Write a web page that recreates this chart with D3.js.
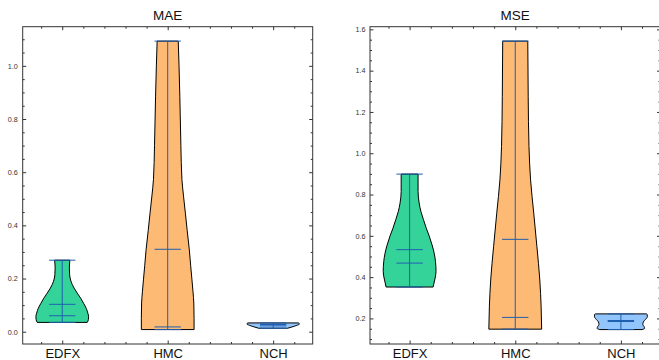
<!DOCTYPE html>
<html>
<head>
<meta charset="utf-8">
<script src="https://cdn.jsdelivr.net/npm/d3@7"></script>
<style>
  html, body { margin: 0; padding: 0; background: #fff; }
  svg { display: block; font-family: "Liberation Sans", Arial, Helvetica, sans-serif; }
</style>
</head>
<body>
<div id="chart"></div>
<script>
// categories and colours of the violins
const categories = ['EDFX', 'HMC', 'NCH'];
const bodyColors = ['#34d399', '#fdba74', '#93c5fd'];

// summary stats (MAE panel)
const maeMin    = [0.035, 0.008, 0.013];
const maeMax    = [0.269, 1.093, 0.033];
const maeMean   = [0.103, 0.310, 0.027];
const maeMedian = [0.060, 0.018, 0.022];

// summary stats (MSE panel)
const mseMin    = [0.352, 0.148, 0.146];
const mseMax    = [0.899, 1.543, 0.222];
const mseMean   = [0.533, 0.583, 0.190];
const mseMedian = [0.468, 0.205, 0.185];

// violin outlines: value levels and relative half width at each level
const maeEdfxVals  = [0.035, 0.045, 0.057, 0.070, 0.088, 0.105, 0.126, 0.145, 0.164, 0.190, 0.214, 0.240, 0.269];
const maeEdfxWidth = [0.95, 0.99, 1.00, 0.97, 0.91, 0.82, 0.70, 0.57, 0.45, 0.33, 0.28, 0.27, 0.29];
const maeHmcVals   = [0.008, 0.050, 0.108, 0.150, 0.195, 0.250, 0.308, 0.380, 0.446, 0.510, 0.572, 0.700, 0.886, 1.000, 1.093];
const maeHmcWidth  = [1.00, 1.00, 0.99, 0.96, 0.92, 0.87, 0.82, 0.74, 0.67, 0.60, 0.54, 0.50, 0.46, 0.43, 0.40];
const maeNchVals   = [0.013, 0.018, 0.024, 0.029, 0.033];
const maeNchWidth  = [0.55, 0.72, 0.90, 1.00, 0.96];

const mseEdfxVals  = [0.352, 0.386, 0.426, 0.475, 0.516, 0.556, 0.600, 0.637, 0.680, 0.717, 0.760, 0.815, 0.860, 0.899];
const mseEdfxWidth = [0.89, 0.95, 1.00, 0.98, 0.93, 0.85, 0.74, 0.63, 0.52, 0.43, 0.36, 0.32, 0.32, 0.32];
const mseHmcVals   = [0.148, 0.256, 0.386, 0.548, 0.710, 0.871, 1.033, 1.276, 1.543];
const mseHmcWidth  = [1.00, 0.98, 0.93, 0.82, 0.70, 0.58, 0.52, 0.49, 0.475];
const mseNchVals   = [0.146, 0.152, 0.160, 0.170, 0.183, 0.195, 0.208, 0.218, 0.222];
const mseNchWidth  = [0.80, 0.90, 0.88, 0.83, 0.85, 0.93, 1.00, 1.00, 0.97];

// tick values
const xMajorTicks = [1, 2, 3];
const xMinorTicks = [0.8, 1.2, 1.4, 1.6, 1.8, 2.2, 2.4, 2.6, 2.8, 3.2];
const maeTicks = [0.0, 0.2, 0.4, 0.6, 0.8, 1.0];
const mseTicks = [0.2, 0.4, 0.6, 0.8, 1.0, 1.2, 1.4, 1.6];

const width = 659, height = 360;
const lineColor = '#1f5fb0';
const axisColor = '#333';

const svg = d3.select('#chart').append('svg')
  .attr('width', width)
  .attr('height', height);

svg.append('rect').attr('width', width).attr('height', height).attr('fill', '#fff');

const panels = [
  {
    title: 'MAE', left: 22.7, right: 312.7, labelPad: 5,
    mins: maeMin, maxs: maeMax, means: maeMean, medians: maeMedian,
    shapes: [[maeEdfxVals, maeEdfxWidth], [maeHmcVals, maeHmcWidth], [maeNchVals, maeNchWidth]],
    ticks: maeTicks
  },
  {
    title: 'MSE', left: 370, right: 660.5, labelPad: 4.5,
    mins: mseMin, maxs: mseMax, means: mseMean, medians: mseMedian,
    shapes: [[mseEdfxVals, mseEdfxWidth], [mseHmcVals, mseHmcWidth], [mseNchVals, mseNchWidth]],
    ticks: mseTicks
  }
];

const plotTop = 26.7, plotBottom = 344;
const violinWidth = 0.5;

panels.forEach(p => {
  // matplotlib-like 5% margins around the data
  const lo = d3.min(p.mins), hi = d3.max(p.maxs);
  const pad = (hi - lo) * 0.05;
  const y = d3.scaleLinear().domain([lo - pad, hi + pad]).range([plotBottom, plotTop]);
  const x = d3.scaleLinear().domain([0.625, 3.375]).range([p.left, p.right]);

  const minorY = d3.range(Math.ceil((lo - pad) / 0.05), Math.floor((hi + pad) / 0.05) + 1)
    .map(i => +(i * 0.05).toFixed(2))
    .filter(v => !p.ticks.some(t => Math.abs(t - v) < 1e-6));

  const g = svg.append('g');
  const halfPx = x(1 + violinWidth / 2) - x(1);
  const capPx = x(1 + violinWidth / 4) - x(1);

  // violin bodies
  p.shapes.forEach((s, i) => {
    const cx = x(i + 1);
    const pts = s[0].map((v, k) => ({ v: v, w: s[1][k] }));
    const area = d3.area()
      .y(d => y(d.v))
      .x0(d => cx - d.w * halfPx)
      .x1(d => cx + d.w * halfPx)
      .curve(d3.curveMonotoneY);
    g.append('path')
      .attr('d', area(pts))
      .attr('fill', bodyColors[i])
      .attr('stroke', '#000')
      .attr('stroke-width', 1);
  });

  // extrema, bars, means, medians
  categories.forEach((c, i) => {
    const cx = x(i + 1);
    g.append('line')
      .attr('x1', cx).attr('x2', cx)
      .attr('y1', y(p.mins[i])).attr('y2', y(p.maxs[i]))
      .attr('stroke', lineColor).attr('stroke-width', 1);
    [p.mins[i], p.maxs[i], p.means[i], p.medians[i]].forEach(v => {
      g.append('line')
        .attr('x1', cx - capPx).attr('x2', cx + capPx)
        .attr('y1', y(v)).attr('y2', y(v))
        .attr('stroke', lineColor).attr('stroke-width', 1);
    });
  });

  // axes, ticks pointing inward on all four sides
  const axes = svg.append('g').attr('class', 'axes');
  const styleAxis = sel => {
    sel.attr('font-family', null).attr('font-size', null);
    sel.select('.domain').remove();
    sel.selectAll('line').attr('stroke', axisColor);
  };

  axes.append('g').attr('transform', `translate(${p.left},0)`)
    .call(d3.axisLeft(y).tickValues(p.ticks).tickSize(-3.5).tickPadding(p.labelPad).tickFormat(d3.format('.1f')))
    .call(styleAxis)
    .call(a => a.selectAll('text').attr('fill', axisColor).style('font-size', '7.2px'));
  axes.append('g').attr('transform', `translate(${p.left},0)`)
    .call(d3.axisLeft(y).tickValues(minorY).tickSize(-2).tickFormat(''))
    .call(styleAxis);
  axes.append('g').attr('transform', `translate(${p.right},0)`)
    .call(d3.axisRight(y).tickValues(p.ticks).tickSize(-3.5).tickFormat(''))
    .call(styleAxis);
  axes.append('g').attr('transform', `translate(${p.right},0)`)
    .call(d3.axisRight(y).tickValues(minorY).tickSize(-2).tickFormat(''))
    .call(styleAxis);

  axes.append('g').attr('transform', `translate(0,${plotBottom})`)
    .call(d3.axisBottom(x).tickValues(xMajorTicks).tickSize(-3.5).tickPadding(5).tickFormat((d, i) => categories[i]))
    .call(styleAxis)
    .call(a => a.selectAll('text').attr('fill', '#111').style('font-size', '13px'));
  axes.append('g').attr('transform', `translate(0,${plotBottom})`)
    .call(d3.axisBottom(x).tickValues(xMinorTicks).tickSize(-2).tickFormat(''))
    .call(styleAxis);
  axes.append('g').attr('transform', `translate(0,${plotTop})`)
    .call(d3.axisTop(x).tickValues(xMajorTicks).tickSize(-3.5).tickFormat(''))
    .call(styleAxis);
  axes.append('g').attr('transform', `translate(0,${plotTop})`)
    .call(d3.axisTop(x).tickValues(xMinorTicks).tickSize(-2).tickFormat(''))
    .call(styleAxis);

  // frame
  axes.append('rect')
    .attr('x', p.left).attr('y', plotTop)
    .attr('width', p.right - p.left).attr('height', plotBottom - plotTop)
    .attr('fill', 'none').attr('stroke', axisColor).attr('stroke-width', 1);

  // title
  svg.append('text')
    .attr('x', (p.left + p.right) / 2).attr('y', 20)
    .attr('text-anchor', 'middle')
    .attr('fill', '#111')
    .style('font-size', '13.5px')
    .text(p.title);
});
</script>
</body>
</html>
